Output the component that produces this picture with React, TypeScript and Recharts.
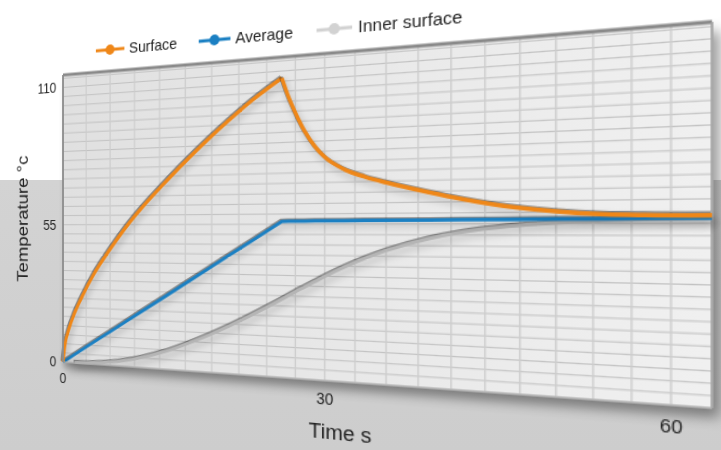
import { LineChart, Line, XAxis, YAxis, CartesianGrid, ReferenceLine } from "recharts"

// time in seconds
const time = [0, 0.25, 0.75, 1.5, 2.5, 4, 6, 8, 10, 12.5, 15, 17.5, 20, 22.5, 25.6, 26.3, 27, 28, 29, 30, 32, 34, 36, 40, 43, 47, 51, 55, 58, 63]

const surface = [0, 6.7, 13.2, 19.8, 26.7, 35.7, 45.4, 54.2, 61.9, 70.5, 78.7, 86.4, 93.6, 100.3, 107.5, 100.5, 94.8, 87.8, 82.5, 78.6, 74, 71.3, 69.2, 65.6, 63.2, 60.6, 58.9, 57.9, 57.6, 57.4]
const average = [0, 0.5, 1.6, 3.3, 5.5, 8.8, 13.1, 17.5, 21.9, 27.3, 32.8, 38.3, 43.8, 49.2, 56, 56.1, 56.1, 56.1, 56.2, 56.2, 56.2, 56.3, 56.3, 56.3, 56.4, 56.4, 56.5, 56.5, 56.6, 56.6]
const innerSurface = [null, null, null, 0.2, 0.3, 0.6, 1.3, 2.4, 4, 6.6, 9.9, 13.6, 17.7, 22.2, 28.1, 29.5, 30.9, 32.8, 34.7, 36.6, 40.1, 43.2, 45.9, 50.1, 52.3, 54.2, 55.3, 56, 56.3, 56.6]

const xLabels = [0, 30, 60]
const yLabels = [0, 55, 110]

const series = [
  { name: "Surface", color: "#ef8718" },
  { name: "Average", color: "#1b80c3" },
  { name: "Inner surface", color: "#d2d2d2" },
]

const peak = surface.indexOf(Math.max(...surface))
const data = time.map((t, i) => ({
  t,
  rise: i <= peak ? surface[i] : null,
  fall: i >= peak ? surface[i] : null,
  average: average[i],
  inner: innerSurface[i],
}))

// grid every 3 s and every 110/30 degrees
const xGrid = Array.from({ length: 22 }, (_, i) => i * 3)
const yGrid = Array.from({ length: 32 }, (_, i) => (i * 11) / 3)

// flat plot rectangle -> corners of the tilted plot on the page
const flatRect = [[63, 75], [631, 75], [631, 362], [63, 362]]
const pageRect = [[63, 75], [712, 22], [712, 408], [63, 362]]

function homography(src: number[][], dst: number[][]) {
  const A: number[][] = []
  const b: number[] = []
  for (let i = 0; i < 4; i++) {
    const [x, y] = src[i]
    const [X, Y] = dst[i]
    A.push([x, y, 1, 0, 0, 0, -x * X, -y * X])
    b.push(X)
    A.push([0, 0, 0, x, y, 1, -x * Y, -y * Y])
    b.push(Y)
  }
  for (let c = 0; c < 8; c++) {
    let p = c
    for (let r = c + 1; r < 8; r++) if (Math.abs(A[r][c]) > Math.abs(A[p][c])) p = r
    ;[A[c], A[p]] = [A[p], A[c]]
    ;[b[c], b[p]] = [b[p], b[c]]
    for (let r = 0; r < 8; r++) {
      if (r === c) continue
      const f = A[r][c] / A[c][c]
      for (let k = c; k < 8; k++) A[r][k] -= f * A[c][k]
      b[r] -= f * b[c]
    }
  }
  const h = b.map((v, i) => v / A[i][i])
  return `matrix3d(${h[0]},${h[3]},0,${h[6]},${h[1]},${h[4]},0,${h[7]},0,0,1,0,${h[2]},${h[5]},0,1)`
}

const css = `
.recharts-cartesian-grid-bg { filter: drop-shadow(5px 7px 5px rgba(0,0,0,0.4)); }
.recharts-line-curve { filter: drop-shadow(-1px -1px 0 rgba(0,0,0,0.4)) drop-shadow(2px 4px 3px rgba(0,0,0,0.2)); }
`

function LegendRow() {
  return (
    <div style={{ position: "absolute", left: 101, top: 45, display: "flex", gap: 22, fontSize: 15, color: "#222", whiteSpace: "nowrap" }}>
      {series.map((s) => (
        <div key={s.name} style={{ display: "flex", alignItems: "center", gap: 5 }}>
          <svg width={32} height={12}>
            <line x1={0} y1={6} x2={32} y2={6} stroke={s.color} strokeWidth={3} />
            <circle cx={16} cy={6} r={5} fill={s.color} />
          </svg>
          <span>{s.name}</span>
        </div>
      ))}
    </div>
  )
}

export default function App() {
  const font = "'Liberation Sans', Arial, sans-serif"
  return (
    <div style={{ position: "absolute", left: 0, top: 0, width: 721, height: 450, overflow: "hidden", background: "linear-gradient(to bottom, #ffffff 0px, #ffffff 180px, #d3d3d3 180px, #cdcdcd 450px)", fontFamily: font }}>
      <style>{css}</style>
      <div style={{ position: "absolute", left: 0, top: 0, width: 660, height: 450, transformOrigin: "0 0", transform: homography(flatRect, pageRect) }}>
        <LineChart width={660} height={450} data={data} margin={{ top: 75, right: 29, bottom: 24, left: 0 }} style={{ fontFamily: font }}>
          <defs>
            <linearGradient id="plotBg" x1="0" y1="0" x2="1" y2="0">
              <stop offset="0%" stopColor="#e0e0e0" />
              <stop offset="100%" stopColor="#f0f0f0" />
            </linearGradient>
          </defs>
          <CartesianGrid vertical={false} stroke="#c2c2c2" fill="url(#plotBg)" fillOpacity={1} />
          <CartesianGrid horizontal={false} stroke="#cdcdcd" strokeWidth={1.3} />
          <XAxis
            type="number"
            dataKey="t"
            domain={[0, 63]}
            ticks={xGrid}
            interval={0}
            tickFormatter={(v: number) => (xLabels.includes(v) ? String(v) : "")}
            tickLine={false}
            tickMargin={5}
            axisLine={{ stroke: "#b0b0b0" }}
            height={64}
            tick={{ fontSize: 14, fill: "#222" }}
            label={{ value: "Time s", position: "insideBottom", offset: 13, fontSize: 19, fill: "#222" }}
          />
          <YAxis
            type="number"
            domain={[0, 115]}
            ticks={yGrid}
            interval={0}
            tickFormatter={(v: number) => {
              const r = Math.round(v * 100) / 100
              return yLabels.includes(r) ? String(r) : ""
            }}
            tickLine={false}
            axisLine={{ stroke: "#8c8c8c", strokeWidth: 2 }}
            width={63}
            tick={{ fontSize: 14, fill: "#222" }}
            label={{ value: "Temperature °c", angle: -90, position: "insideLeft", offset: 14, fontSize: 19, fill: "#222", style: { textAnchor: "middle" } }}
          />
          <ReferenceLine y={115} stroke="#8a8a8a" strokeWidth={3} />
          <ReferenceLine x={63} stroke="#a0a0a0" strokeWidth={1.5} />
          <Line type="monotone" dataKey="inner" stroke="#b5b5b5" strokeWidth={3} dot={false} isAnimationActive={false} />
          <Line type="linear" dataKey="average" stroke="#1b80c3" strokeWidth={3} dot={false} isAnimationActive={false} />
          <Line type="monotone" dataKey="rise" stroke="#ef8718" strokeWidth={3.5} dot={false} isAnimationActive={false} />
          <Line type="monotone" dataKey="fall" stroke="#ef8718" strokeWidth={3.5} dot={false} isAnimationActive={false} />
        </LineChart>
        <LegendRow />
      </div>
    </div>
  )
}
